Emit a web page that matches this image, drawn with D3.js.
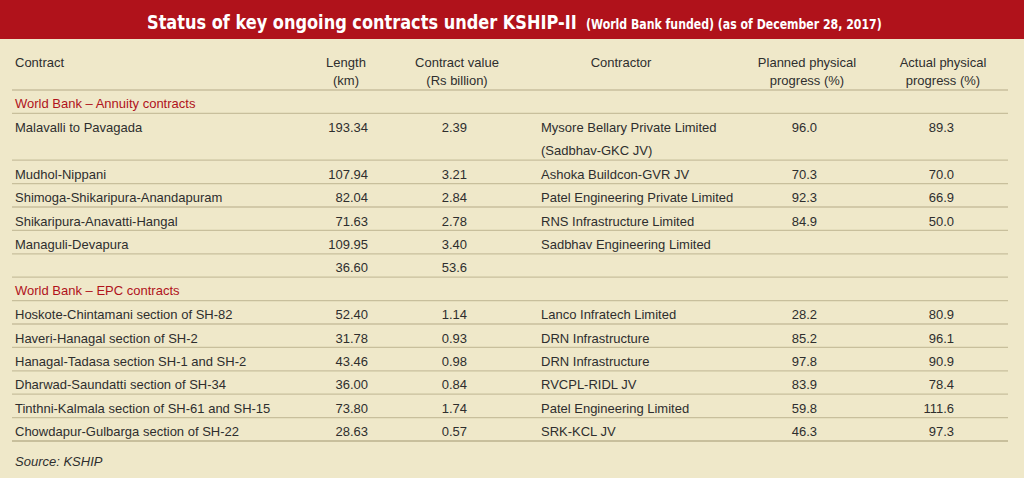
<!DOCTYPE html>
<html>
<head>
<meta charset="utf-8">
<script src="https://cdn.jsdelivr.net/npm/d3@7"></script>
<style>
  html, body { margin: 0; padding: 0; background: #efe8c9; }
  svg { display: block; }
</style>
</head>
<body>
<svg id="chart" width="1024" height="478"></svg>
<script>
// ---------- DATA ----------
const titleMain = "Status of key ongoing contracts under KSHIP-II";
const titleSub = "(World Bank funded) (as of December 28, 2017)";
const headerContract = ["Contract"];
const headerLength = ["Length", "(km)"];
const headerValue = ["Contract value", "(Rs billion)"];
const headerContractor = ["Contractor"];
const headerPlanned = ["Planned physical", "progress (%)"];
const headerActual = ["Actual physical", "progress (%)"];
const sectionTitles = ["World Bank \u2013 Annuity contracts", "World Bank \u2013 EPC contracts"];

const rowSection = [0, 0, 0, 0, 0, 0, 1, 1, 1, 1, 1, 1];
const contracts = [
  "Malavalli to Pavagada", "Mudhol-Nippani", "Shimoga-Shikaripura-Anandapuram",
  "Shikaripura-Anavatti-Hangal", "Managuli-Devapura", "",
  "Hoskote-Chintamani section of SH-82", "Haveri-Hanagal section of SH-2",
  "Hanagal-Tadasa section SH-1 and SH-2", "Dharwad-Saundatti section of SH-34",
  "Tinthni-Kalmala section of SH-61 and SH-15", "Chowdapur-Gulbarga section of SH-22"
];
const lengthKm = ["193.34", "107.94", "82.04", "71.63", "109.95", "36.60",
  "52.40", "31.78", "43.46", "36.00", "73.80", "28.63"];
const valueRsBn = ["2.39", "3.21", "2.84", "2.78", "3.40", "53.6",
  "1.14", "0.93", "0.98", "0.84", "1.74", "0.57"];
const contractors = [
  ["Mysore Bellary Private Limited", "(Sadbhav-GKC JV)"], ["Ashoka Buildcon-GVR JV"],
  ["Patel Engineering Private Limited"], ["RNS Infrastructure Limited"],
  ["Sadbhav Engineering Limited"], [""],
  ["Lanco Infratech Limited"], ["DRN Infrastructure"], ["DRN Infrastructure"],
  ["RVCPL-RIDL JV"], ["Patel Engineering Limited"], ["SRK-KCL JV"]
];
const plannedPct = ["96.0", "70.3", "92.3", "84.9", "", "",
  "28.2", "85.2", "97.8", "83.9", "59.8", "46.3"];
const actualPct = ["89.3", "70.0", "66.9", "50.0", "", "",
  "80.9", "96.1", "90.9", "78.4", "111.6", "97.3"];
const sourceNote = "Source: KSHIP";

// ---------- STYLE ----------
const W = 1024, H = 478;
const BG = "#efe8c9", RED = "#b0121b", TXT = "#2e2e2e", RULE = "#c8bf9c";
const FONT = "'Liberation Sans', Arial, sans-serif";
const NARROW = "'Liberation Sans Narrow', 'DejaVu Sans Condensed', sans-serif";

const svg = d3.select("#chart");
svg.append("rect").attr("width", W).attr("height", H).attr("fill", BG);

// title bar
svg.append("rect").attr("x", 0).attr("y", 0).attr("width", W).attr("height", 39).attr("fill", RED);
function fitText(str, x, yb, size, targetW) {
  const t = svg.append("text").attr("x", 0).attr("y", 0)
    .attr("fill", "#fff").attr("font-family", NARROW).attr("font-weight", "bold")
    .attr("font-size", size).text(str);
  const natural = t.node().getComputedTextLength() || targetW;
  t.attr("transform", `translate(${x},${yb}) scale(${targetW / natural},1)`);
}
fitText(titleMain, 147, 29, 20, 430);
fitText(titleSub, 586, 28.5, 14, 296);

// build row layout: units in row heights
const layout = [];
let u = 0;
sectionTitles.forEach((s, si) => {
  layout.push({ type: "section", text: s, start: u, span: 1 });
  u += 1;
  rowSection.forEach((sec, i) => {
    if (sec !== si) return;
    const span = contractors[i].length;
    layout.push({ type: "row", i, start: u, span });
    u += span;
  });
});
const totalUnits = u;

const y = d3.scaleLinear().domain([0, totalUnits]).range([90, 441]);
const unit = y(1) - y(0);

// column positions
const col = {
  contract: { x: 15, anchor: "start" },
  length: { x: 368, anchor: "end", hx: 346 },
  value: { x: 467, anchor: "end", hx: 457 },
  contractor: { x: 541, anchor: "start", hx: 621 },
  planned: { x: 817, anchor: "end", hx: 807 },
  actual: { x: 954, anchor: "end", hx: 943 }
};

const g = svg.append("g").attr("font-family", FONT).attr("font-size", 13).attr("fill", TXT);

// headers
const headers = [
  { lines: headerContract, x: col.contract.x, anchor: "start" },
  { lines: headerLength, x: col.length.hx, anchor: "middle" },
  { lines: headerValue, x: col.value.hx, anchor: "middle" },
  { lines: headerContractor, x: col.contractor.hx, anchor: "middle" },
  { lines: headerPlanned, x: col.planned.hx, anchor: "middle" },
  { lines: headerActual, x: col.actual.hx, anchor: "middle" }
];
headers.forEach(h => {
  h.lines.forEach((t, k) => {
    g.append("text").attr("x", h.x).attr("y", 66.5 + k * 18.5)
      .attr("text-anchor", h.anchor).text(t);
  });
});

// rules
const ruleYs = [0].concat(layout.map(d => d.start + d.span));
g.selectAll("line.rule").data(ruleYs).join("line")
  .attr("class", "rule")
  .attr("x1", 12).attr("x2", 1008)
  .attr("y1", d => y(d)).attr("y2", d => y(d))
  .attr("stroke", RULE)
  .attr("stroke-width", d => d === totalUnits ? 2 : 1.3);

// sections
layout.filter(d => d.type === "section").forEach(d => {
  g.append("text").attr("x", col.contract.x).attr("y", y(d.start) + 17.8)
    .attr("fill", RED).text(d.text);
});

// rows
layout.filter(d => d.type === "row").forEach(d => {
  const i = d.i, by = y(d.start) + 18.5;
  const cell = (c, t, yy) => {
    if (!t) return;
    g.append("text").attr("x", c.x).attr("y", yy).attr("text-anchor", c.anchor).text(t);
  };
  cell(col.contract, contracts[i], by);
  cell(col.length, lengthKm[i], by);
  cell(col.value, valueRsBn[i], by);
  contractors[i].forEach((t, k) => cell(col.contractor, t, by + k * unit));
  cell(col.planned, plannedPct[i], by);
  cell(col.actual, actualPct[i], by);
});

// source
g.append("text").attr("x", 15).attr("y", 465.5).attr("font-style", "italic").text(sourceNote);
</script>
</body>
</html>
